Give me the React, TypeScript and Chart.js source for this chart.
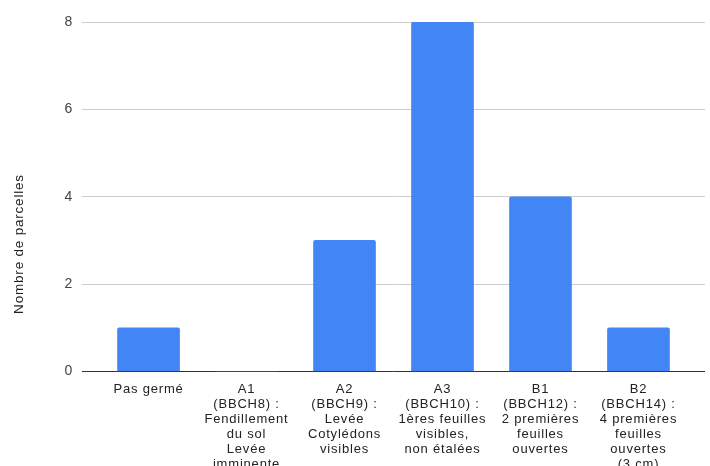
import React, { useEffect, useRef } from "react";
import { Chart, registerables } from "chart.js";

Chart.register(...registerables);

const categories: string[][] = [
  ["Pas germé"],
  ["A1", "(BBCH8) :", "Fendillement", "du sol", "Levée", "imminente"],
  ["A2", "(BBCH9) :", "Levée", "Cotylédons", "visibles"],
  ["A3", "(BBCH10) :", "1ères feuilles", "visibles,", "non étalées"],
  ["B1", "(BBCH12) :", "2 premières", "feuilles", "ouvertes"],
  ["B2", "(BBCH14) :", "4 premières", "feuilles", "ouvertes", "(3 cm)"],
];
const counts: number[] = [1, 0, 3, 8, 4, 1];
const yTicks: number[] = [0, 2, 4, 6, 8];
const yTitle = "Nombre de parcelles";

const FONT = '"Liberation Sans", Arial, sans-serif';
const SPACING = "0.8px";

const spacingPlugin = {
  id: "letterSpacing",
  beforeInit(chart: any) {
    chart.ctx.letterSpacing = SPACING;
  },
  beforeLayout(chart: any) {
    chart.ctx.letterSpacing = SPACING;
  },
  beforeDraw(chart: any) {
    chart.ctx.letterSpacing = SPACING;
  },
};

const titlePlugin = {
  id: "yTitle",
  afterDraw(chart: any) {
    const ctx = chart.ctx;
    const area = chart.chartArea;
    ctx.save();
    ctx.letterSpacing = SPACING;
    ctx.translate(19.5, (area.top + chart.height) / 2);
    ctx.rotate(-Math.PI / 2);
    ctx.textAlign = "center";
    ctx.textBaseline = "middle";
    ctx.font = `13.5px ${FONT}`;
    ctx.fillStyle = "#222222";
    ctx.fillText(yTitle, 0, 0);
    ctx.restore();
  },
};

export default function App() {
  const ref = useRef<HTMLCanvasElement | null>(null);

  useEffect(() => {
    if (!ref.current) return;
    const chart = new Chart(ref.current, {
      type: "bar",
      data: {
        datasets: [
          {
            data: counts.map((v, i) => ({ x: i, y: v })),
            backgroundColor: "#4285F4",
            barThickness: 62,
            borderRadius: 2,
            borderSkipped: "bottom",
          } as any,
        ],
      },
      options: {
        animation: false,
        responsive: false,
        devicePixelRatio: 1,
        layout: { padding: { left: 0, right: 5, top: 22, bottom: 0 } },
        plugins: {
          legend: { display: false },
          tooltip: { enabled: false },
        },
        scales: {
          x: {
            type: "linear",
            offset: false,
            min: -0.679,
            max: categories.length - 1 + 0.679,
            afterBuildTicks: (axis: any) => {
              axis.ticks = categories.map((_, i) => ({ value: i }));
            },
            afterFit: (axis: any) => {
              axis.height = 94.5;
            },
            ticks: {
              callback: (v: any) => categories[v] ?? "",
              autoSkip: false,
              maxRotation: 0,
              minRotation: 0,
              padding: 3,
              color: "#222222",
              font: { family: FONT, size: 13, lineHeight: 1.14 },
            },
            grid: { display: false },
            border: { display: false },
          },
          y: {
            min: 0,
            max: 8,
            afterBuildTicks: (axis: any) => {
              axis.ticks = yTicks.map((v) => ({ value: v }));
            },
            afterFit: (axis: any) => {
              axis.width = 82;
            },
            ticks: {
              padding: 9,
              color: "#444444",
              font: { family: FONT, size: 14 },
            },
            grid: {
              drawTicks: false,
              color: (c: any) => (c.tick && c.tick.value === 0 ? "#333333" : "#cccccc"),
              lineWidth: 1,
            },
            border: { display: false },
          },
        },
      } as any,
      plugins: [spacingPlugin, titlePlugin],
    });
    return () => chart.destroy();
  }, []);

  return (
    <div style={{ position: "fixed", left: 0, top: 0, width: 710, height: 466, background: "#ffffff" }}>
      <canvas ref={ref} width={710} height={466} style={{ display: "block", width: 710, height: 466 }} />
    </div>
  );
}
